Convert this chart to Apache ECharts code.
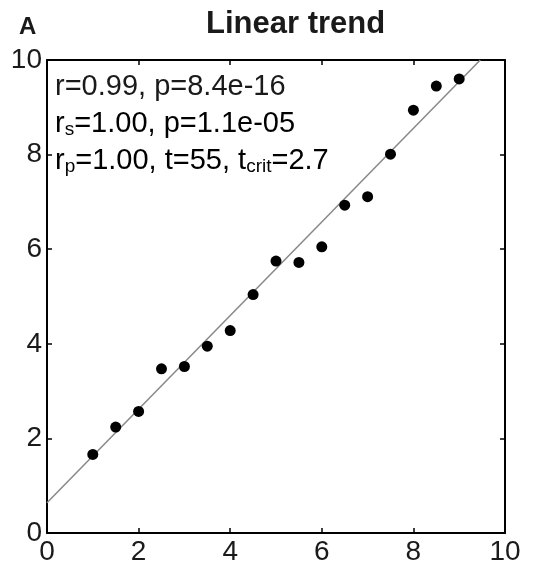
<!DOCTYPE html>
<html>
<head>
<meta charset="utf-8">
<script src="https://cdn.jsdelivr.net/npm/echarts@6/dist/echarts.min.js"></script>
<style>
html,body{margin:0;padding:0;background:#fff;}
#main{width:555px;height:569px;}
</style>
</head>
<body>
<div id="main"></div>
<script>
// data
var xValues = [1, 1.5, 2, 2.5, 3, 3.5, 4, 4.5, 5, 5.5, 6, 6.5, 7, 7.5, 8, 8.5, 9];
var yValues = [1.66, 2.24, 2.57, 3.47, 3.52, 3.95, 4.28, 5.04, 5.75, 5.72, 6.05, 6.93, 7.11, 8.01, 8.94, 9.45, 9.6];
var trendX = [0, 9.46];
var trendY = [0.64, 10];
var tickLabels = ['0', '2', '4', '6', '8', '10'];

var font = 'Liberation Sans, Arial, Helvetica, sans-serif';

var points = [];
for (var i = 0; i < xValues.length; i++) {
	points.push([xValues[i], yValues[i]]);
}
var trend = [];
for (var j = 0; j < trendX.length; j++) {
	trend.push([trendX[j], trendY[j]]);
}

function labelFmt(v) {
	return tickLabels.indexOf(String(v)) >= 0 ? String(v) : '';
}

var axisBase = {
	type: 'value',
	min: 0,
	max: 10,
	interval: 2,
	splitLine: { show: false },
	axisLine: { show: true, onZero: false, lineStyle: { color: '#000', width: 2 } },
	axisTick: { show: true, inside: true, length: 5, lineStyle: { color: '#000', width: 1.5 } }
};

var myChart = echarts.init(document.getElementById('main'));
var option = {
	backgroundColor: '#fff',
	animation: false,
	grid: { left: 47, right: 50, top: 60, bottom: 36 }
};

option.xAxis = [
	Object.assign({}, axisBase, {
		position: 'bottom',
		axisLabel: { color: '#1a1a1a', fontSize: 28, fontFamily: font, margin: 5, formatter: labelFmt }
	}),
	Object.assign({}, axisBase, {
		position: 'top',
		axisLabel: { show: false }
	})
];
option.yAxis = [
	Object.assign({}, axisBase, {
		position: 'left',
		axisLabel: { color: '#1a1a1a', fontSize: 28, fontFamily: font, margin: 5, formatter: labelFmt }
	}),
	Object.assign({}, axisBase, {
		position: 'right',
		axisLabel: { show: false }
	})
];
option.series = [
	{
		type: 'line',
		data: trend,
		symbol: 'none',
		lineStyle: { color: '#888', width: 1.5 },
		z: 1
	},
	{
		type: 'scatter',
		data: points,
		symbol: 'circle',
		symbolSize: 11,
		itemStyle: { color: '#000', opacity: 1 },
		z: 2
	}
];

//文字和下标
var sub = { fontSize: 19, fontFamily: font, color: '#1a1a1a', padding: [13, 0, 0, 0] };
var main = { fontSize: 29, fontFamily: font, color: '#1a1a1a' };
option.graphic = [
	{
		type: 'text', left: 19, top: 15,
		style: { text: 'A', font: 'bold 24px ' + font, fill: '#1a1a1a' }
	},
	{
		type: 'text', left: 206, top: 9,
		style: { text: 'Linear trend', font: 'bold 31px ' + font, fill: '#1a1a1a' }
	},
	{
		type: 'text', left: 55, top: 72,
		style: { text: 'r=0.99, p=8.4e-16', font: '29px ' + font, fill: '#1a1a1a' }
	},
	{
		type: 'text', left: 55, top: 109,
		style: {
			text: '{m|r}{s|s}{m|=1.00, p=1.1e-05}',
			rich: { m: main, s: sub }
		}
	},
	{
		type: 'text', left: 55, top: 146,
		style: {
			text: '{m|r}{s|p}{m|=1.00, t=55, t}{s|crit}{m|=2.7}',
			rich: { m: main, s: sub }
		}
	}
];

myChart.setOption(option);
</script>
</body>
</html>
